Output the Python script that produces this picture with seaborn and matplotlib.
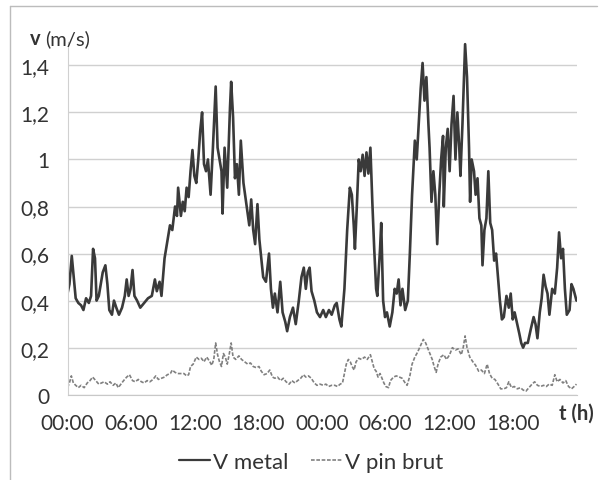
import numpy as np
import pandas as pd
import seaborn as sns
import matplotlib.pyplot as plt
from matplotlib.lines import Line2D

# time in hours since the first 00:00
t_metal = [0.00, 0.18, 0.40, 0.58, 0.77, 1.02, 1.28, 1.50, 1.75, 2.01, 2.22, 2.41, 2.59, 2.74, 2.95,
           3.10, 3.32, 3.57, 3.76, 3.94, 4.19, 4.38, 4.60, 4.85, 5.14, 5.40, 5.58, 5.76, 5.94, 6.13,
           6.31, 6.56, 6.86, 7.22, 7.59, 7.95, 8.24, 8.42, 8.68, 8.86, 9.15, 9.41, 9.66, 9.88, 10.14,
           10.32, 10.43, 10.69, 10.87, 11.05, 11.23, 11.42, 11.60, 11.78, 11.96, 12.14, 12.33, 12.51,
           12.69, 12.87, 13.06, 13.24, 13.49, 13.71, 13.97, 14.15, 14.33, 14.52, 14.62, 14.81, 15.06,
           15.32, 15.43, 15.61, 15.79, 15.97, 16.16, 16.34, 16.59, 16.89, 17.14, 17.32, 17.51, 17.69,
           17.91, 18.09, 18.27, 18.45, 18.71, 19.00, 19.18, 19.37, 19.55, 19.80, 20.06, 20.28, 20.53,
           20.71, 20.97, 21.26, 21.52, 21.81, 22.06, 22.28, 22.47, 22.65, 22.83, 23.01, 23.27, 23.52,
           23.81, 24.11, 24.36, 24.65, 24.91, 25.20, 25.38, 25.64, 25.82, 26.11, 26.37, 26.62, 26.81,
           26.99, 27.10, 27.28, 27.46, 27.64, 27.83, 28.01, 28.19, 28.37, 28.56, 28.74, 28.92, 29.10,
           29.21, 29.47, 29.58, 29.76, 29.94, 30.12, 30.38, 30.63, 30.85, 31.04, 31.22, 31.40, 31.58,
           31.84, 32.09, 32.28, 32.49, 32.75, 32.93, 33.11, 33.30, 33.48, 33.66, 33.84, 34.03, 34.14,
           34.32, 34.50, 34.68, 34.86, 35.05, 35.23, 35.41, 35.48, 35.67, 35.85, 36.03, 36.21, 36.40,
           36.58, 36.76, 36.94, 37.05, 37.24, 37.49, 37.67, 37.86, 37.96, 38.11, 38.33, 38.48, 38.66,
           38.84, 39.02, 39.13, 39.31, 39.50, 39.68, 39.86, 40.04, 40.23, 40.41, 40.59, 40.77, 40.96,
           41.14, 41.39, 41.61, 41.79, 41.98, 42.16, 42.41, 42.60, 42.78, 42.96, 43.14, 43.40, 43.69,
           43.95, 44.13, 44.31, 44.53, 44.71, 44.89, 45.08, 45.26, 45.44, 45.70, 45.95, 46.17, 46.35,
           46.54, 46.72, 46.90, 47.08, 47.34, 47.52, 47.70, 47.99]
v_metal = [0.43, 0.47, 0.59, 0.50, 0.41, 0.39, 0.38, 0.36, 0.41, 0.39, 0.42, 0.62, 0.58, 0.40, 0.42,
           0.46, 0.52, 0.55, 0.47, 0.36, 0.34, 0.40, 0.37, 0.34, 0.37, 0.42, 0.49, 0.42, 0.45, 0.53,
           0.42, 0.40, 0.37, 0.39, 0.41, 0.42, 0.49, 0.44, 0.48, 0.42, 0.58, 0.65, 0.72, 0.70, 0.80,
           0.76, 0.88, 0.76, 0.82, 0.78, 0.88, 0.84, 0.95, 1.04, 0.93, 0.90, 1.00, 1.12,
           1.20, 0.98, 0.95, 1.00, 0.85, 1.05, 1.31, 1.05, 1.00, 0.95, 0.77, 1.05, 0.88,
           1.22, 1.33, 1.18, 0.92, 0.98, 0.85, 1.08, 0.90, 0.80, 0.72, 0.83, 0.70, 0.64,
           0.81, 0.66, 0.58, 0.50, 0.48, 0.60, 0.45, 0.37, 0.43, 0.35, 0.48, 0.35, 0.31,
           0.27, 0.33, 0.37, 0.30, 0.40, 0.50, 0.54, 0.45, 0.52, 0.54, 0.44, 0.40, 0.35,
           0.33, 0.36, 0.33, 0.36, 0.34, 0.38, 0.39, 0.32, 0.29, 0.45, 0.70, 0.88, 0.85,
           0.72, 0.62, 0.80, 1.00, 0.95, 1.02, 0.93, 1.03, 0.94, 1.05, 0.82, 0.62, 0.45,
           0.42, 0.62, 0.73, 0.40, 0.33, 0.35, 0.29, 0.35, 0.45, 0.43, 0.49, 0.38, 0.45,
           0.36, 0.40, 0.60, 0.85, 1.08, 1.00, 1.15, 1.30, 1.41, 1.25, 1.35, 1.15, 1.05,
           0.82, 0.95, 0.85, 0.64, 0.85, 1.00, 1.10, 0.80, 1.05, 1.13, 0.95, 1.15, 1.27,
           1.00, 1.20, 1.05, 0.93, 1.15, 1.49, 1.35, 1.05, 0.82, 1.00, 0.95, 0.85, 0.92,
           0.75, 0.72, 0.55, 0.70, 0.75, 0.95, 0.73, 0.70, 0.57, 0.60, 0.50, 0.40, 0.32,
           0.33, 0.42, 0.37, 0.43, 0.32, 0.35, 0.30, 0.26, 0.22, 0.20, 0.22, 0.22, 0.28,
           0.33, 0.30, 0.24, 0.35, 0.41, 0.51, 0.46, 0.43, 0.34, 0.45, 0.43, 0.54, 0.69,
           0.58, 0.62, 0.45, 0.34, 0.36, 0.47, 0.45, 0.40]

t_pin = [0.00, 0.18, 0.36, 0.55, 0.77, 1.02, 1.28, 1.57, 1.86, 2.12, 2.37, 2.66, 2.95, 3.21, 3.46,
         3.76, 4.01, 4.30, 4.56, 4.78, 5.03, 5.29, 5.58, 5.84, 6.13, 6.38, 6.67, 6.97, 7.22, 7.51,
         7.77, 8.06, 8.32, 8.57, 8.86, 9.15, 9.41, 9.70, 9.88, 10.14, 10.39, 10.69, 10.98, 11.23,
         11.42, 11.60, 11.85, 12.14, 12.40, 12.62, 12.87, 13.13, 13.42, 13.60, 13.79, 13.97, 14.15,
         14.33, 14.52, 14.70, 14.88, 15.06, 15.24, 15.43, 15.61, 15.86, 16.16, 16.41, 16.70, 16.99,
         17.25, 17.51, 17.80, 18.05, 18.27, 18.53, 18.82, 19.07, 19.33, 19.55, 19.80, 20.09, 20.35,
         20.61, 20.90, 21.15, 21.44, 21.70, 21.99, 22.25, 22.47, 22.72, 22.98, 23.27, 23.52, 23.81,
         24.11, 24.36, 24.62, 24.91, 25.20, 25.46, 25.71, 25.93, 26.11, 26.29, 26.48, 26.66, 26.84,
         27.02, 27.21, 27.46, 27.72, 28.01, 28.26, 28.56, 28.74, 28.92, 29.10, 29.28, 29.47, 29.65,
         29.83, 30.01, 30.27, 30.45, 30.74, 31.00, 31.29, 31.55, 31.84, 32.02, 32.28, 32.49, 32.75,
         33.00, 33.30, 33.55, 33.77, 33.95, 34.21, 34.39, 34.57, 34.76, 34.94, 35.19, 35.48, 35.74,
         36.03, 36.29, 36.58, 36.83, 37.13, 37.31, 37.49, 37.67, 37.93, 38.22, 38.48, 38.77, 39.02,
         39.31, 39.57, 39.79, 40.04, 40.30, 40.59, 40.85, 41.14, 41.39, 41.61, 41.87, 42.12, 42.41,
         42.71, 42.96, 43.22, 43.51, 43.80, 44.05, 44.31, 44.60, 44.89, 45.15, 45.41, 45.70, 45.95,
         46.17, 46.43, 46.72, 46.98, 47.24, 47.52, 47.77, 47.99]
v_pin = [0.03, 0.05, 0.08, 0.05, 0.04, 0.03, 0.04, 0.03, 0.05, 0.06, 0.075, 0.06, 0.045, 0.05, 0.055,
         0.045, 0.055, 0.04, 0.05, 0.03, 0.045, 0.06, 0.075, 0.085, 0.06, 0.055, 0.065, 0.055, 0.05, 0.06,
         0.055, 0.065, 0.08, 0.065, 0.07, 0.075, 0.085, 0.09, 0.105, 0.095, 0.09, 0.09, 0.09, 0.08,
         0.085, 0.12, 0.13, 0.16, 0.15, 0.155, 0.14, 0.16, 0.14, 0.125, 0.15, 0.22, 0.17,
         0.14, 0.12, 0.175, 0.16, 0.13, 0.17, 0.22, 0.16, 0.15, 0.165, 0.15, 0.14, 0.13,
         0.135, 0.12, 0.115, 0.12, 0.10, 0.085, 0.09, 0.105, 0.075, 0.07, 0.075, 0.06, 0.07,
         0.055, 0.045, 0.06, 0.05, 0.06, 0.07, 0.085, 0.075, 0.08, 0.07, 0.05, 0.04, 0.045,
         0.04, 0.045, 0.035, 0.04, 0.04, 0.035, 0.045, 0.05, 0.09, 0.13, 0.15, 0.14, 0.12,
         0.105, 0.14, 0.155, 0.15, 0.16, 0.15, 0.17, 0.14, 0.11, 0.10, 0.075, 0.09, 0.07,
         0.05, 0.035, 0.03, 0.06, 0.075, 0.08, 0.075, 0.07, 0.05, 0.04, 0.08, 0.13, 0.16,
         0.18, 0.21, 0.235, 0.22, 0.20, 0.17, 0.15, 0.12, 0.095, 0.13, 0.16, 0.17, 0.15,
         0.17, 0.20, 0.19, 0.195, 0.17, 0.20, 0.25, 0.20, 0.16, 0.14, 0.125, 0.10, 0.105,
         0.09, 0.13, 0.09, 0.07, 0.065, 0.045, 0.025, 0.025, 0.03, 0.055, 0.03, 0.035, 0.025,
         0.03, 0.02, 0.015, 0.03, 0.045, 0.055, 0.04, 0.035, 0.04, 0.035, 0.045, 0.04, 0.085,
         0.055, 0.065, 0.05, 0.06, 0.035, 0.025, 0.035, 0.045]

x_ticks = [0, 6, 12, 18, 24, 30, 36, 42]
x_labels = ["00:00", "06:00", "12:00", "18:00", "00:00", "06:00", "12:00", "18:00"]
y_ticks = [0, 0.2, 0.4, 0.6, 0.8, 1.0, 1.2, 1.4]
y_labels = ["0", "0,2", "0,4", "0,6", "0,8", "1", "1,2", "1,4"]

df_metal = pd.DataFrame({"t": t_metal, "v": v_metal})
df_pin = pd.DataFrame({"t": t_pin, "v": v_pin})

sns.set_style("white")
plt.rcParams["font.family"] = ["Lato", "DejaVu Sans"]
txt = "#333333"
metal_col = "#3a3a3a"
pin_col = "#808080"

fig = plt.figure(figsize=(6.05, 4.81), dpi=100)
ax = fig.add_axes([0.1116, 0.1773, 0.8414, 0.7337])

sns.lineplot(data=df_metal, x="t", y="v", ax=ax, color=metal_col, linewidth=1.9, label="V metal")
sns.lineplot(data=df_pin, x="t", y="v", ax=ax, color=pin_col, linewidth=1.2,
             dashes=False, label="V pin brut")
ax.lines[1].set_dashes([2.2, 1.0])

ax.set_xlim(0, 48)
ax.set_ylim(0, 1.5)
ax.set_yticks(y_ticks)
ax.set_yticklabels(y_labels)
ax.set_xticks(x_ticks)
ax.set_xticklabels(x_labels)
ax.yaxis.grid(True, color="#d0d0d0", linewidth=1)
ax.set_axisbelow(True)
for s in ["top", "right"]:
    ax.spines[s].set_visible(False)
ax.spines["left"].set_color("#d0d0d0")
ax.spines["bottom"].set_color("#c8c8c8")
ax.tick_params(axis="x", length=4, color="#c8c8c8", direction="out", pad=9,
               labelsize=15, labelcolor=txt)
ax.tick_params(axis="y", length=0, pad=13, labelsize=15, labelcolor=txt)
ax.set_xlabel("")
ax.set_ylabel("")

fig.text(0.050, 0.918, "v", fontsize=14.5, fontweight="bold", color=txt, va="center")
fig.text(0.075, 0.918, "(m/s)", fontsize=14.5, color=txt, va="center")
fig.text(0.924, 0.141, "t (h)", fontsize=14.5, fontweight="bold", color=txt, va="center")

ax.get_legend().remove()
handles = [Line2D([], [], color=metal_col, linewidth=1.6),
           Line2D([], [], color=pin_col, linewidth=1.2, dashes=[2.2, 1.0])]
fig.legend(handles, ["V metal", "V pin brut"], loc="center", bbox_to_anchor=(0.514, 0.037),
           ncol=2, frameon=False, handlelength=1.4, handletextpad=0.15, columnspacing=1.0,
           fontsize=16, labelcolor=txt)

# chart area border (left and top edges visible in the crop)
fig.add_artist(Line2D([10 / 605, 10 / 605], [0, 1 - 7 / 481], transform=fig.transFigure,
                      color="#bcbcbc", linewidth=1))
fig.add_artist(Line2D([10 / 605, 597 / 605], [1 - 7 / 481, 1 - 7 / 481], transform=fig.transFigure,
                      color="#bcbcbc", linewidth=1))

fig.savefig("out.png", dpi=100)
